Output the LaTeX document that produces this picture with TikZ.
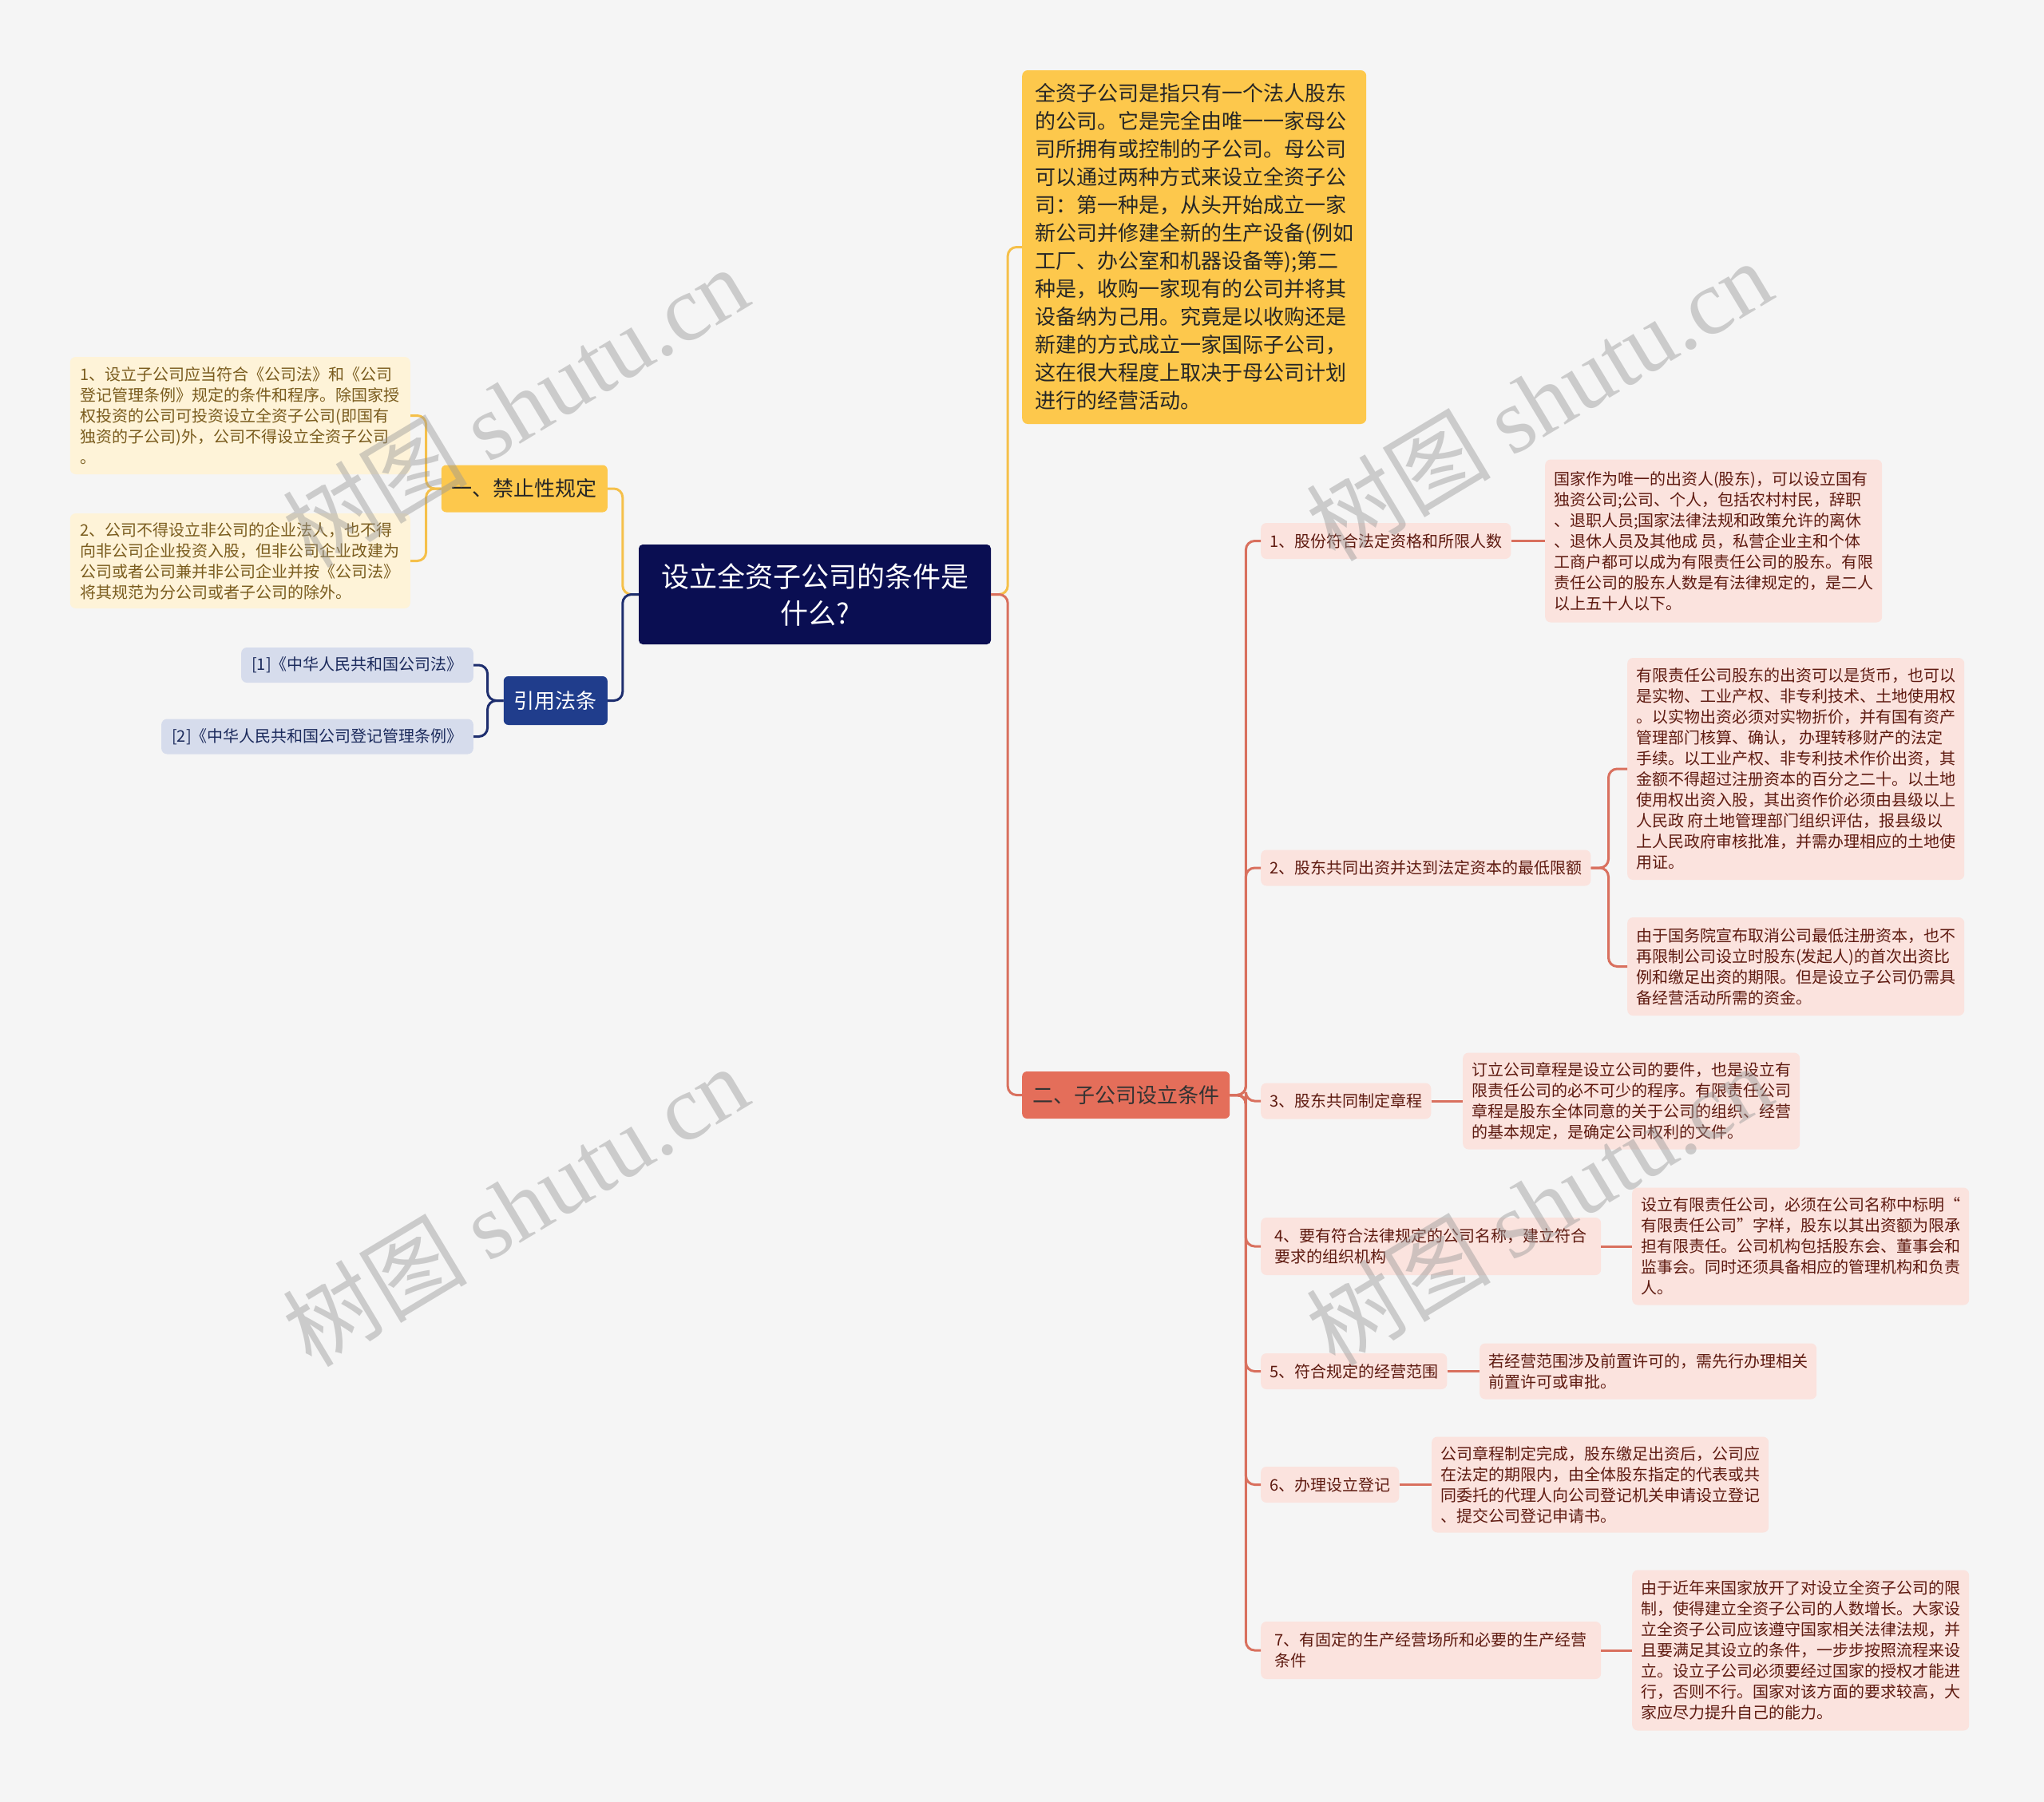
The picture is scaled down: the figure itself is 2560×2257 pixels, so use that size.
\documentclass[tikz,border=0pt]{standalone}
\usepackage{fontspec}
\setmainfont{Noto Sans CJK SC}
\newfontfamily\wmserif{Liberation Serif}
\definecolor{bgc}{HTML}{F5F5F5}
\definecolor{rootc}{HTML}{0A0E52}
\definecolor{yelc}{HTML}{FDC84C}
\definecolor{yleafc}{HTML}{FEF3D8}
\definecolor{ytextc}{HTML}{7A5C1E}
\definecolor{bluec}{HTML}{203D8C}
\definecolor{rleafc}{HTML}{D6DCEC}
\definecolor{rtextc}{HTML}{1B2A5C}
\definecolor{coralc}{HTML}{E46E5A}
\definecolor{pinkc}{HTML}{FBE3DE}
\definecolor{ptextc}{HTML}{5E1A10}
\definecolor{ylinec}{HTML}{F5C04A}
\definecolor{nlinec}{HTML}{1E2E6E}
\definecolor{rlinec}{HTML}{D9705E}
\begin{document}
\begin{tikzpicture}[x=1pt,y=-1pt,
  rootbox/.style={fill=rootc, text=white, rounded corners=5pt, minimum width=441pt, minimum height=125pt, align=center, inner sep=0pt, font=\fontsize{35}{46}\selectfont},
  descbox/.style={fill=yelc, text=black!85, rounded corners=7pt, minimum width=431pt, minimum height=443pt, align=left, inner xsep=13pt, inner ysep=8pt, font=\fontsize{26}{35}\selectfont},
  lvone/.style={rounded corners=6pt, minimum height=59pt, inner xsep=13pt, inner ysep=0pt, font=\fontsize{26}{32}\selectfont},
  ybox/.style={lvone, fill=yelc, text=black!85},
  bbox/.style={lvone, fill=bluec, text=white, minimum height=61pt},
  cbox/.style={lvone, fill=coralc, text=black!80},
  leaf/.style={rounded corners=7pt, align=left, inner xsep=13pt, inner ysep=8pt, font=\fontsize{20}{26}\selectfont},
  yleaf/.style={leaf, fill=yleafc, text=ytextc},
  rleaf/.style={leaf, fill=rleafc, text=rtextc, minimum height=44pt, inner ysep=0pt},
  pnode/.style={leaf, fill=pinkc, text=ptextc, inner xsep=11pt, minimum height=45pt},
  pleaf/.style={leaf, fill=pinkc, text=ptextc, inner xsep=11pt},
  conn/.style={line width=3pt, rounded corners=11pt},
  yline/.style={conn, draw=ylinec},
  nline/.style={conn, draw=nlinec},
  rline/.style={conn, draw=rlinec},
  wm/.style={rotate=31, text=black!40, opacity=0.45}
]
\fill[bgc] (0,0) rectangle (2560,2257);
\useasboundingbox (0,0) rectangle (2560,2257);

% root and level one
\node[rootbox] (root) at (1020.5,744.5) {设立全资子公司的条件是\\什么?};
\node[descbox, anchor=west] (desc) at (1280,309.5) {全资子公司是指只有一个法人股东\\的公司。它是完全由唯一一家母公\\司所拥有或控制的子公司。母公司\\可以通过两种方式来设立全资子公\\司：第一种是，从头开始成立一家\\新公司并修建全新的生产设备(例如\\工厂、办公室和机器设备等);第二\\种是，收购一家现有的公司并将其\\设备纳为己用。究竟是以收购还是\\新建的方式成立一家国际子公司，\\这在很大程度上取决于母公司计划\\进行的经营活动。};
\node[ybox, anchor=east] (ban) at (761,612) {一、禁止性规定};
\node[bbox, anchor=east] (cite) at (761,877.5) {引用法条};
\node[cbox, anchor=west] (cond) at (1280,1371.5) {二、子公司设立条件};

% left leaves
\node[yleaf, anchor=east, minimum height=147pt] (ban1) at (514,520.5) {1、设立子公司应当符合《公司法》和《公司\\登记管理条例》规定的条件和程序。除国家授\\权投资的公司可投资设立全资子公司(即国有\\独资的子公司)外，公司不得设立全资子公司\\。};
\node[yleaf, anchor=east, minimum height=119pt] (ban2) at (514,702.5) {2、公司不得设立非公司的企业法人，也不得\\向非公司企业投资入股，但非公司企业改建为\\公司或者公司兼并非公司企业并按《公司法》\\将其规范为分公司或者子公司的除外。};
\node[rleaf, anchor=east] (ref1) at (593,833) {[1]《中华人民共和国公司法》};
\node[rleaf, anchor=east] (ref2) at (593,922.5) {[2]《中华人民共和国公司登记管理条例》};

% right level two
\node[pnode, anchor=west] (n1) at (1579,677.5) {1、股份符合法定资格和所限人数};
\node[pnode, anchor=west] (n2) at (1579,1087) {2、股东共同出资并达到法定资本的最低限额};
\node[pnode, anchor=west] (n3) at (1579,1379) {3、股东共同制定章程};
\node[pnode, anchor=west, minimum height=72pt, minimum width=426pt] (n4) at (1579,1561) {4、要有符合法律规定的公司名称，建立符合\\要求的组织机构};
\node[pnode, anchor=west] (n5) at (1579,1717.5) {5、符合规定的经营范围};
\node[pnode, anchor=west] (n6) at (1579,1859.5) {6、办理设立登记};
\node[pnode, anchor=west, minimum height=72pt, minimum width=426pt] (n7) at (1579,2067) {7、有固定的生产经营场所和必要的生产经营\\条件};

% right leaves
\node[pleaf, anchor=west, minimum height=204pt] (r1) at (1935,677.5) {国家作为唯一的出资人(股东)，可以设立国有\\独资公司;公司、个人，包括农村村民，辞职\\、退职人员;国家法律法规和政策允许的离休\\、退休人员及其他成 员，私营企业主和个体\\工商户都可以成为有限责任公司的股东。有限\\责任公司的股东人数是有法律规定的，是二人\\以上五十人以下。};
\node[pleaf, anchor=west, minimum height=278pt] (r2a) at (2038,963) {有限责任公司股东的出资可以是货币，也可以\\是实物、工业产权、非专利技术、土地使用权\\。以实物出资必须对实物折价，并有国有资产\\管理部门核算、确认， 办理转移财产的法定\\手续。以工业产权、非专利技术作价出资，其\\金额不得超过注册资本的百分之二十。以土地\\使用权出资入股，其出资作价必须由县级以上\\人民政 府土地管理部门组织评估，报县级以\\上人民政府审核批准，并需办理相应的土地使\\用证。};
\node[pleaf, anchor=west, minimum height=123pt] (r2b) at (2038,1210.5) {由于国务院宣布取消公司最低注册资本，也不\\再限制公司设立时股东(发起人)的首次出资比\\例和缴足出资的期限。但是设立子公司仍需具\\备经营活动所需的资金。};
\node[pleaf, anchor=west, minimum height=121pt] (r3) at (1832,1379) {订立公司章程是设立公司的要件，也是设立有\\限责任公司的必不可少的程序。有限责任公司\\章程是股东全体同意的关于公司的组织、经营\\的基本规定，是确定公司权利的文件。};
\node[pleaf, anchor=west, minimum height=147pt] (r4) at (2044,1561) {设立有限责任公司，必须在公司名称中标明“\\有限责任公司”字样，股东以其出资额为限承\\担有限责任。公司机构包括股东会、董事会和\\监事会。同时还须具备相应的管理机构和负责\\人。};
\node[pleaf, anchor=west, minimum height=70pt] (r5) at (1853,1717.5) {若经营范围涉及前置许可的，需先行办理相关\\前置许可或审批。};
\node[pleaf, anchor=west, minimum height=120pt] (r6) at (1793,1859.5) {公司章程制定完成，股东缴足出资后，公司应\\在法定的期限内，由全体股东指定的代表或共\\同委托的代理人向公司登记机关申请设立登记\\、提交公司登记申请书。};
\node[pleaf, anchor=west, minimum height=201pt] (r7) at (2044,2067) {由于近年来国家放开了对设立全资子公司的限\\制，使得建立全资子公司的人数增长。大家设\\立全资子公司应该遵守国家相关法律法规，并\\且要满足其设立的条件，一步步按照流程来设\\立。设立子公司必须要经过国家的授权才能进\\行，否则不行。国家对该方面的要求较高，大\\家应尽力提升自己的能力。};

% connectors
\draw[yline] (root.east) -- ++(21,0) |- (desc.west);
\draw[rline] (root.east) -- ++(21,0) |- (cond.west);
\draw[yline] (root.west) -- ++(-20,0) |- (ban.east);
\draw[nline] (root.west) -- ++(-20,0) |- (cite.east);
\draw[yline] (ban.west) -- ++(-19,0) |- (ban1.east);
\draw[yline] (ban.west) -- ++(-19,0) |- (ban2.east);
\draw[nline] (cite.west) -- ++(-20,0) |- (ref1.east);
\draw[nline] (cite.west) -- ++(-20,0) |- (ref2.east);
\foreach \k in {n1,n2,n3,n4,n5,n6,n7}
  \draw[rline] (cond.east) -- ++(20,0) |- (\k.west);
\draw[rline] (n1.east) -- (r1.west);
\draw[rline] (n2.east) -- ++(22,0) |- (r2a.west);
\draw[rline] (n2.east) -- ++(22,0) |- (r2b.west);
\draw[rline] (n3.east) -- (r3.west);
\draw[rline] (n4.east) -- (r4.west);
\draw[rline] (n5.east) -- (r5.west);
\draw[rline] (n6.east) -- (r6.west);
\draw[rline] (n7.east) -- (r7.west);

% watermarks
\node[wm] (wm1) at (645,509) {\fontsize{116}{120}\selectfont 树图 {\wmserif shutu.cn}};
\node[wm] (wm2) at (1927,501) {\fontsize{116}{120}\selectfont 树图 {\wmserif shutu.cn}};
\node[wm] (wm3) at (645,1510) {\fontsize{116}{120}\selectfont 树图 {\wmserif shutu.cn}};
\node[wm] (wm4) at (1927,1509) {\fontsize{116}{120}\selectfont 树图 {\wmserif shutu.cn}};
\end{tikzpicture}
\end{document}
